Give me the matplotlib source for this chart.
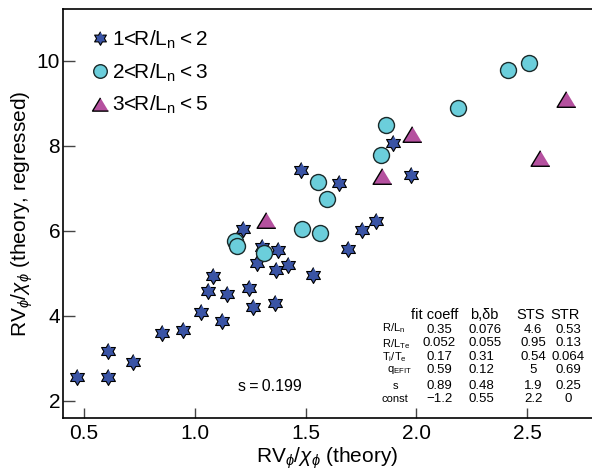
import matplotlib
matplotlib.use("Agg")
import matplotlib.pyplot as plt
import numpy as np

plt.rcParams['font.family'] = ['Liberation Sans', 'DejaVu Sans']
plt.rcParams['mathtext.fontset'] = 'custom'
plt.rcParams['mathtext.rm'] = 'Liberation Sans'
plt.rcParams['mathtext.it'] = 'Liberation Sans:italic'
plt.rcParams['mathtext.bf'] = 'Liberation Sans:bold'

# 1 < R/Ln < 2
star_x = [0.467, 0.608, 0.608, 0.720, 0.851, 0.946, 1.027, 1.061, 1.084, 1.125, 1.144, 1.216,
          1.246, 1.262, 1.280, 1.302, 1.360, 1.367, 1.377, 1.421, 1.480, 1.533, 1.653, 1.690,
          1.756, 1.818, 1.894, 1.976]
star_y = [2.57, 3.18, 2.56, 2.92, 3.60, 3.68, 4.09, 4.59, 4.95, 3.88, 4.51, 6.04,
          4.65, 4.22, 5.24, 5.63, 4.31, 5.07, 5.56, 5.21, 7.44, 4.96, 7.12, 5.57,
          6.02, 6.24, 8.07, 7.32]

# 2 < R/Ln < 3
circ_x = [1.182, 1.191, 1.314, 1.486, 1.555, 1.565, 1.596, 1.841, 1.863, 2.187, 2.416, 2.509]
circ_y = [5.77, 5.64, 5.49, 6.05, 7.14, 5.95, 6.75, 7.79, 8.48, 8.89, 9.79, 9.95]

# 3 < R/Ln < 5
tri_x = [1.322, 1.845, 1.982, 2.560, 2.676]
tri_y = [6.25, 7.30, 8.27, 7.72, 9.10]

labels = ['1<R/L$_\\mathrm{n}$\u2009<\u20092', '2<R/L$_\\mathrm{n}$\u2009<\u20093',
          '3<R/L$_\\mathrm{n}$\u2009<\u20095']

# fit table
col_head = ['fit coeff', 'b,\u03b4b', 'STS', 'STR']
row_names = ['R/L$_\\mathrm{n}$', 'R/L$_\\mathrm{Te}$', 'T$_\\mathrm{i}$/T$_\\mathrm{e}$',
             'q$_\\mathrm{EFIT}$', 's', 'const']
fit_coeff = ['0.35', '0.052', '0.17', '0.59', '0.89', '\u22121.2']
b_db = ['0.076', '0.055', '0.31', '0.12', '0.48', '0.55']
sts = ['4.6', '0.95', '0.54', '5', '1.9', '2.2']
stmr = ['0.53', '0.13', '0.064', '0.69', '0.25', '0']

# six-pointed star and wide triangle
ang = np.pi / 2 + np.arange(12) * np.pi / 6
rad = np.where(np.arange(12) % 2 == 0, 1.0, 0.577)
hexagram = list(zip(rad * np.cos(ang), rad * np.sin(ang)))
tri = [(0, 0.83), (-1, -0.83), (1, -0.83)]

fig = plt.figure(figsize=(5.92, 4.73), dpi=100)
ax = fig.add_axes([63 / 592, 1 - 418 / 473, 1 - 63 / 592, 409 / 473])

ax.plot(star_x, star_y, ls='none', marker=hexagram, ms=11.5, mfc='#3a54a5', mec='black', mew=0.8,
        label=labels[0])
ax.plot(circ_x, circ_y, ls='none', marker='o', ms=11.5, mfc='#6bcedb', mec='#1a2a2a', mew=1.0,
        label=labels[1])
ax.plot(tri_x, tri_y, ls='none', marker=tri, ms=13.5, mfc='#b5519f', mec='black', mew=1.0,
        label=labels[2])

ax.set_xlim(0.405, 2.793)
ax.set_ylim(1.6, 11.22)
ax.set_xticks([0.5, 1.0, 1.5, 2.0, 2.5])
ax.set_xticklabels(['0.5', '1.0', '1.5', '2.0', '2.5'])
ax.set_yticks([2, 4, 6, 8, 10])
ax.tick_params(axis='x', direction='in', length=7.5, width=1, color='#444444', labelsize=15, pad=4)
ax.tick_params(axis='y', direction='in', length=8.5, width=1, color='#444444', labelsize=15, pad=2)
for s in ['left', 'bottom', 'top']:
    ax.spines[s].set_linewidth(1.2)
ax.spines['right'].set_visible(False)

ax.set_xlabel('RV$_\\phi$/$\\chi_\\phi$ (theory)', fontsize=15, labelpad=2)
ax.set_ylabel('RV$_\\phi$/$\\chi_\\phi$ (theory, regressed)', fontsize=15, labelpad=1.5)

ax.legend(loc='upper left', bbox_to_anchor=(0.015, 0.998), frameon=False, fontsize=15,
          handletextpad=0.05, handlelength=1.0, labelspacing=0.5, markerscale=0.85)

ax.text(0.392, 0.077, 's\u2009=\u20090.199', transform=ax.transAxes, fontsize=11.5,
        ha='center', va='center')

# table in lower right
head_x = [0.702, 0.796, 0.883, 0.949]
for hx, h in zip(head_x, col_head):
    ax.text(hx, 0.252, h, transform=ax.transAxes, fontsize=10.5, ha='center', va='center')
row_y = [0.216, 0.183, 0.149, 0.117, 0.079, 0.046]
name_y = [0.219, 0.181, 0.149, 0.117, 0.079, 0.046]
name_x = [0.603, 0.603, 0.603, 0.612, 0.624, 0.603]
for i in range(6):
    ax.text(name_x[i], name_y[i], row_names[i], transform=ax.transAxes, fontsize=8,
            ha='left', va='center')
    ax.text(0.711, row_y[i], fit_coeff[i], transform=ax.transAxes, fontsize=9.5, ha='center', va='center')
    ax.text(0.766, row_y[i], b_db[i], transform=ax.transAxes, fontsize=9.5, ha='left', va='center')
    ax.text(0.889, row_y[i], sts[i], transform=ax.transAxes, fontsize=9.5, ha='center', va='center')
    ax.text(0.955, row_y[i], stmr[i], transform=ax.transAxes, fontsize=9.5, ha='center', va='center')

fig.savefig('out.png', dpi=100)
